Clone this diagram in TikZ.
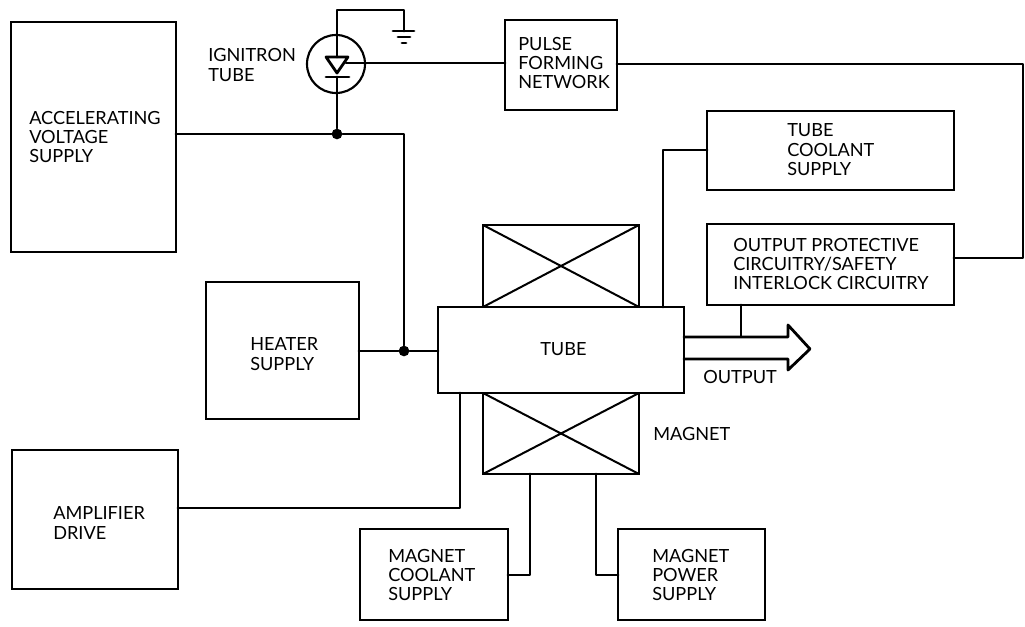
\documentclass[tikz,border=0pt]{standalone}
\usepackage{fontspec}
\setmainfont{Lato}
\usetikzlibrary{calc}
\tikzset{
  x=0.75pt,y=-0.75pt,
  wire/.style={line width=2.1pt,line cap=round,line join=round},
  thin wire/.style={line width=1.5pt},
  boxnode/.style={draw,line width=1.8pt,inner sep=0pt,outer sep=0pt},
  txt/.style={font=\fontsize{13.6pt}{14.6pt}\selectfont,align=left,inner sep=0pt,anchor=west},
  dot/.style={circle,fill=black,inner sep=0pt,minimum size=8pt},
}
\newcommand{\bx}[5]{\path let \p1=(#2,#3),\p2=(#4,#5) in node[boxnode,minimum width=\x2-\x1,minimum height=\y1-\y2,anchor=center] (#1) at ($(\p1)!0.5!(\p2)$) {};}
\begin{document}
\begin{tikzpicture}
\useasboundingbox (0,0) rectangle (1025,627);
\bx{acc}{11}{22}{176}{252}
\bx{heat}{206}{282}{359}{419}
\bx{amp}{12}{450}{178}{589}
\bx{magu}{483}{225}{639}{307}
\bx{magl}{483}{393}{639}{474}
\bx{tube}{438}{307}{684}{393}
\bx{pulse}{505}{20}{617}{110}
\bx{cool}{707}{111}{954}{190}
\bx{prot}{707}{224}{954}{305}
\bx{mcool}{360}{529}{508}{620}
\bx{mpow}{618}{529}{765}{620}
% magnet crosses
\draw[thin wire] (magu.north west)--(magu.south east) (magu.north east)--(magu.south west);
\draw[thin wire] (magl.north west)--(magl.south east) (magl.north east)--(magl.south west);
% labels
\node[txt] (tacc) at (29,137) {ACCELERATING\\VOLTAGE\\SUPPLY};
\node[txt] (theat) at (250,354) {HEATER\\SUPPLY};
\node[txt] (tamp) at (53,523) {AMPLIFIER\\DRIVE};
\node[txt] (ttube) at (540,349) {TUBE};
\node[txt] (tpulse) at (518,63) {PULSE\\FORMING\\NETWORK};
\node[txt] (tcool) at (787,150) {TUBE\\COOLANT\\SUPPLY};
\node[txt] (tprot) at (733,264) {OUTPUT PROTECTIVE\\CIRCUITRY/SAFETY\\INTERLOCK CIRCUITRY};
\node[txt] (tmc) at (388,575) {MAGNET\\COOLANT\\SUPPLY};
\node[txt] (tmp) at (652,575) {MAGNET\\POWER\\SUPPLY};
\node[txt] (tign) at (208,65) {IGNITRON\\TUBE};
\node[txt] (tout) at (703,377) {OUTPUT};
\node[txt] (tmag) at (653,434) {MAGNET};
% ignitron
\node[draw,circle,line width=1.6pt,minimum size=43.5pt,inner sep=0pt] (ign) at (336,64) {};
\node[dot] (dota) at (337,134) {};
\node[dot] (dotb) at (404,351) {};
\coordinate (top) at (337,10);
\coordinate (gtop) at (404,10);
\coordinate (g1) at (404,31);
\draw[wire] (acc.east |- dota) -- (dota) -- (dotb |- dota) -- (dotb);
\draw[wire] (dota) -- (337,77);
\draw[wire] (337,57) -- (top) -- (gtop) -- (g1);
\draw[wire] (326,57) -- (348,57) -- (337,73) -- cycle;
\draw[wire] (326,77) -- (349,77);
\draw[wire] (393,31) -- (414,31);
\draw[wire] (398,37) -- (410,37);
\draw[wire] (402,43) -- (406,43);
\coordinate (trig) at (346,63);
\draw[wire] (trig) -- (pulse.west |- trig);
\coordinate (r1) at (1023,64);
\coordinate (r2) at (1023,258);
\draw[wire] (pulse.east |- r1) -- (r1) -- (r2) -- (prot.east |- r2);
\draw[wire] (heat.east |- dotb) -- (dotb) -- (tube.west |- dotb);
\coordinate (a1) at (460,508);
\draw[wire] (amp.east |- a1) -- (a1) -- (a1 |- tube.south);
\coordinate (c1) at (663,150);
\draw[wire] (c1 |- tube.north) -- (c1) -- (cool.west |- c1);
\coordinate (o1) at (741,336);
\draw[wire] (o1 |- prot.south) -- (o1);
% output arrow
\coordinate (au) at (788,337);
\coordinate (al) at (788,359);
\draw[wire] (tube.east |- au) -- (au) -- (788,325) -- (810,349) -- (788,370) -- (al) -- (tube.east |- al);
% magnet feeds
\coordinate (m1) at (530,575);
\coordinate (m2) at (596,575);
\draw[wire] (m1 |- magl.south) -- (m1) -- (mcool.east |- m1);
\draw[wire] (m2 |- magl.south) -- (m2) -- (mpow.west |- m2);
\end{tikzpicture}
\end{document}
